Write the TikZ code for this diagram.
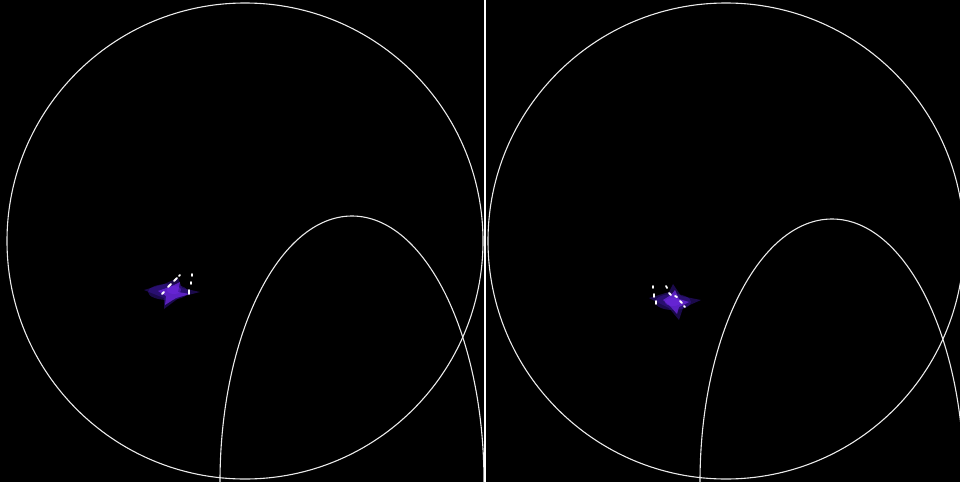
\documentclass[tikz,border=0pt]{standalone}
\usetikzlibrary{calc}
\definecolor{glow}{RGB}{110,40,225}
\definecolor{deepglow}{RGB}{55,20,150}
\definecolor{curve}{RGB}{235,235,235}
\tikzset{
  orbit/.style={draw=curve, line width=1.1pt},
  divider/.style={draw=white, line width=2.6pt},
  spark/.style={draw=white, line width=1.8pt, line cap=round},
  haze/.style={fill=deepglow, opacity=0.5},
  core/.style={fill=glow, opacity=0.75}
}
\begin{document}
\begin{tikzpicture}[x=1pt,y=-1pt]
  % black canvas, 960 x 482
  \fill[black] (0,0) rectangle (960,482);
  \useasboundingbox (0,0) rectangle (960,482);

  \begin{scope}
    \clip (0,0) rectangle (960,482);
    % left panel: boundary circle and parabolic arc
    \coordinate (lc) at (245,241);
    \coordinate (le) at (352,482);
    \draw[orbit] (lc) circle[radius=238pt];
    \draw[orbit] (le) ellipse[x radius=132pt, y radius=266pt];
    % right panel: same figure shifted
    \coordinate (rc) at (726,241);
    \coordinate (re) at (832,482);
    \draw[orbit] (rc) circle[radius=238pt];
    \draw[orbit] (re) ellipse[x radius=132pt, y radius=263pt];
  \end{scope}

  % separator between the two panels
  \coordinate (dtop) at (485,0);
  \coordinate (dbot) at (485,482);
  \draw[divider] (dtop) -- (dbot);

  % left cluster
  \begin{scope}[shift={(170,292)}]
    \fill[haze] (-2,0) ellipse[x radius=20pt, y radius=8pt];
    \fill[haze] (-26,-2) -- (-6,-8) -- (8,-14) -- (12,-4) -- (30,0) -- (10,5) -- (-6,17) -- (-6,6) -- cycle;
    \fill[core] (-12,-1) -- (2,-6) -- (10,-10) -- (8,0) -- (20,2) -- (6,6) -- (-5,13) -- (-4,4) -- cycle;
    \fill[glow, opacity=0.5] (4,-2) ellipse[x radius=7pt, y radius=4pt];
  \end{scope}
  \draw[spark] (162,294) -- (164,292);
  \draw[spark] (168,287) -- (171,284);
  \draw[spark] (174,281) -- (177,278);
  \draw[spark] (179,276) -- (180,275);
  \draw[spark] (192,274) -- (192,276);
  \draw[spark] (191,282) -- (191,284);
  \draw[spark] (189,290) -- (189,294);

  % right cluster
  \begin{scope}[shift={(673,302)}]
    \fill[haze] (0,0) ellipse[x radius=18pt, y radius=8pt];
    \fill[haze] (-24,-4) -- (-4,-10) -- (0,-18) -- (8,-6) -- (28,-2) -- (10,6) -- (6,18) -- (-4,6) -- cycle;
    \fill[core] (-10,-2) -- (-2,-7) -- (2,-12) -- (6,-3) -- (16,0) -- (6,5) -- (4,12) -- (-3,4) -- cycle;
    \fill[glow, opacity=0.5] (0,0) ellipse[x radius=8pt, y radius=4pt];
  \end{scope}
  \draw[spark] (653,286) -- (653,288);
  \draw[spark] (654,294) -- (654,297);
  \draw[spark] (656,301) -- (656,304);
  \draw[spark] (666,286) -- (667,288);
  \draw[spark] (669,293) -- (671,295);
  \draw[spark] (675,296) -- (677,297);
  \draw[spark] (680,301) -- (682,303);
  \draw[spark] (684,306) -- (685,307);
\end{tikzpicture}
\end{document}
